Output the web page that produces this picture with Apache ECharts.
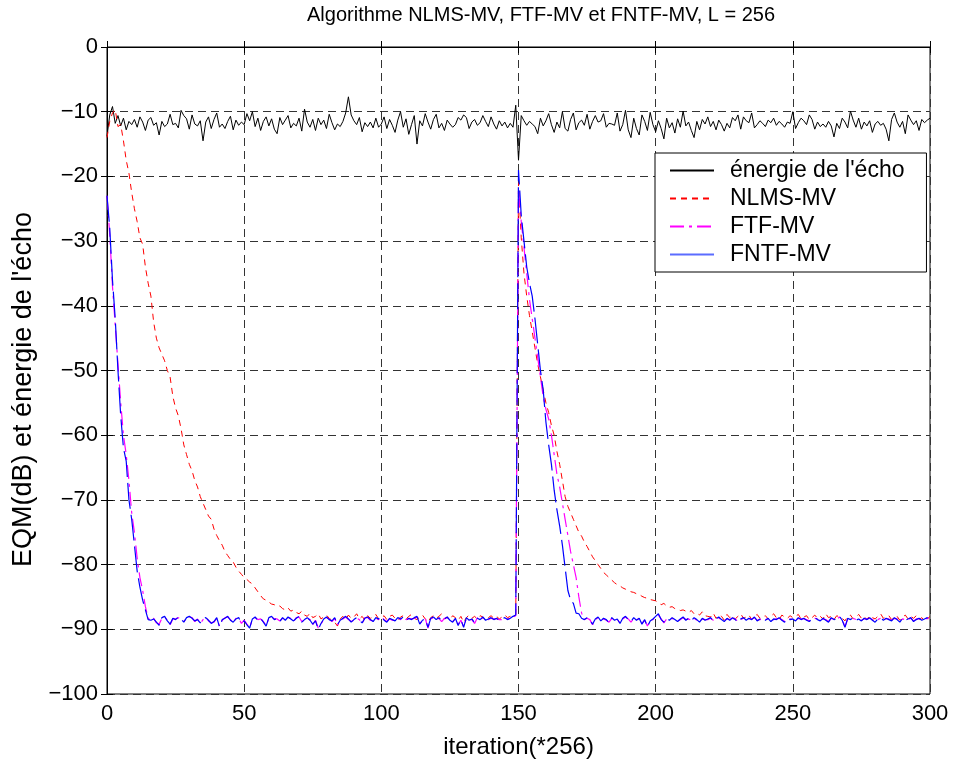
<!DOCTYPE html>
<html><head><meta charset="utf-8">
<script src="https://cdn.jsdelivr.net/npm/echarts@6/dist/echarts.min.js"></script>
<style>html,body{margin:0;padding:0;background:#fff}#c{width:955px;height:762px}</style>
</head><body><div id="c"></div>
<script>
// ---- data (iteration index = position in array, 0..300) ----
const titleText = "Algorithme NLMS-MV, FTF-MV et FNTF-MV, L = 256";
const xName = "iteration(*256)";
const yName = "EQM(dB) et énergie de l'écho";
const seriesNames = ["énergie de l'écho", "NLMS-MV", "FTF-MV", "FNTF-MV"];

const echoEnergy = [
 -13.8,-10.5,-9.2,-11.8,-10.6,-12.2,-11.0,-12.8,-11.5,-12.0,
 -11.2,-12.4,-10.8,-11.6,-12.9,-11.3,-10.9,-12.1,-11.7,-13.6,
 -11.5,-12.3,-11.9,-10.4,-12.0,-11.8,-12.5,-9.8,-10.6,-11.1,
 -12.7,-10.5,-11.9,-12.2,-11.4,-14.5,-11.6,-10.8,-12.6,-11.2,
 -10.2,-12.4,-11.9,-12.6,-11.5,-10.7,-12.8,-11.3,-12.1,-11.6,
 -12.0,-10.3,-11.4,-10.0,-12.3,-11.0,-12.9,-11.5,-10.8,-12.2,
 -11.1,-12.7,-13.4,-10.9,-12.0,-11.3,-10.6,-12.5,-11.8,-12.2,
 -11.0,-13.0,-9.6,-11.6,-12.4,-11.2,-12.9,-11.0,-12.0,-11.3,
 -12.6,-10.4,-11.7,-12.8,-11.9,-12.3,-11.5,-10.2,-7.7,-10.5,
 -11.4,-12.0,-10.9,-13.1,-11.7,-12.3,-11.6,-12.5,-11.0,-12.4,
 -11.9,-10.8,-12.6,-11.2,-12.1,-13.2,-11.3,-10.0,-12.4,-11.1,
 -13.5,-12.0,-10.6,-15.0,-11.4,-12.2,-10.3,-11.6,-12.7,-11.2,
 -10.4,-12.5,-11.8,-12.9,-11.3,-11.9,-12.4,-12.0,-10.9,-11.3,
 -10.5,-10.9,-12.6,-11.6,-11.2,-12.1,-11.7,-10.6,-11.5,-12.3,
 -10.8,-11.9,-12.7,-11.4,-12.2,-11.6,-12.5,-11.8,-12.4,-9.0,
 -17.5,-10.6,-11.4,-12.1,-11.5,-11.9,-12.3,-13.4,-11.0,-12.2,
 -11.4,-10.3,-12.0,-13.2,-11.6,-12.5,-10.0,-12.6,-13.0,-11.2,
 -10.2,-12.8,-11.7,-11.3,-12.1,-10.4,-12.7,-11.5,-10.6,-11.6,
 -11.4,-10.3,-12.4,-11.8,-11.9,-12.1,-10.2,-13.0,-12.0,-9.8,
 -12.8,-14.0,-11.0,-12.6,-13.6,-10.5,-11.5,-12.9,-10.1,-12.0,
 -13.1,-11.4,-12.6,-14.2,-11.0,-12.5,-11.7,-13.3,-11.1,-12.4,
 -9.9,-12.2,-11.6,-12.9,-14.0,-11.5,-12.8,-11.2,-11.9,-10.8,
 -12.3,-11.5,-12.8,-11.3,-12.0,-13.0,-11.8,-12.5,-10.9,-11.4,
 -10.5,-12.7,-10.8,-11.4,-11.7,-10.2,-12.5,-12.0,-11.4,-11.8,
 -12.3,-11.3,-11.7,-11.0,-12.1,-11.5,-11.9,-12.4,-11.6,-11.8,
 -10.0,-12.6,-11.7,-11.0,-11.4,-12.0,-10.5,-11.2,-12.7,-11.6,
 -12.3,-11.9,-12.4,-11.5,-12.2,-13.9,-11.8,-12.6,-11.0,-11.6,
 -12.5,-9.9,-11.3,-12.4,-11.0,-12.7,-11.6,-12.2,-11.4,-13.2,
 -11.9,-11.5,-12.1,-11.8,-12.7,-14.5,-11.2,-10.2,-11.6,-12.4,
 -11.5,-13.4,-10.5,-11.3,-12.0,-11.4,-12.9,-11.2,-11.7,-11.3,
 -11.0
];

// NLMS-MV: iterations 0..85, 86..149, 150..219, 220..300
const nlmsConv1 = [
 -14,-11.5,-10.2,-9.7,-12.3,-12,-14.5,-17.5,-19.5,-22.5,
 -25,-27,-29.5,-30.5,-34,-36.5,-38.5,-42.5,-45,-46.5,
 -47.5,-48.5,-50,-51,-54,-55.8,-57,-59,-61.5,-63,
 -64.5,-65.5,-67,-68,-69.5,-70.5,-71.5,-72.5,-73,-74.5,
 -75.5,-76.3,-77,-78,-78.6,-79.2,-79.6,-80.4,-81,-81.5,
 -82,-82.3,-82.7,-83,-83.6,-84.2,-84.8,-85.3,-85.5,-85.8,
 -86.1,-86.2,-86.5,-86.4,-86.8,-87,-86.7,-87.2,-87,-87.4,
 -87.6,-87.2,-87.8,-88,-87.5,-88.2,-88,-87.6,-88.4,-88.1,
 -87.8,-88.3,-88.6,-88.9,-89.5,-88.4
];
const nlmsFloor1 = [
 -88.0,-88.5,-87.8,-88.3,
 -88.1,-87.6,-88.4,-88.0,-88.6,-87.9,-88.3,-88.1,-87.7,-88.4,
 -88.2,-87.9,-88.5,-88.0,-87.8,-88.3,-88.6,-88.1,-87.9,-88.4,
 -88.0,-87.7,-88.3,-88.5,-88.1,-87.8,-88.4,-88.9,-88.2,-87.9,
 -88.3,-88.0,-87.6,-88.4,-88.1,-88.5,-87.9,-88.2,-88.6,-88.0,
 -88.9,-88.2,-87.8,-88.3,-88.0,-88.4,-87.9,-88.1,-88.5,-88.2,
 -87.9,-88.3,-88.0,-88.4,-88.1,-87.8,-88.2,-88.0,-87.9,-87.7
];
const nlmsConv2 = [
 -21,-29.5,-35,-38.5,-41.5,-44,-46.5,-49,-51,-53,
 -55,-56.5,-58.5,-60,-62.5,-64.5,-67,-69.5,-71,-72,
 -73,-74,-75,-75.6,-76.5,-77.2,-78,-78.8,-79.4,-80,
 -80.6,-81.2,-81.6,-82,-82.4,-82.8,-83.1,-83.3,-83.6,-83.8,
 -84,-84.2,-84.3,-84.5,-84.6,-84.9,-85.1,-85.2,-85.4,-85.5,
 -85.6,-85.9,-86.2,-86,-86.4,-86.6,-86.5,-86.8,-86.9,-87.1,
 -87,-87.2,-87.4,-87.1,-87.6,-87.5,-87.8,-87.3,-87.9,-88
];
const nlmsFloor2 = [
 -88.1,-87.5,-88.3,-87.8,-88.0,-88.6,-87.7,-88.2,-87.9,-88.4,
 -88.0,-87.6,-88.3,-88.1,-87.8,-88.5,-88.0,-87.7,-88.3,-88.1,
 -87.9,-88.4,-88.0,-87.6,-88.2,-88.5,-87.8,-88.1,-88.3,-87.9,
 -88.2,-88.0,-87.7,-88.4,-88.1,-87.9,-88.5,-88.2,-87.8,-88.3,
 -88.0,-88.4,-87.6,-88.2,-88.0,-88.5,-87.9,-88.1,-88.3,-88.7,
 -88.0,-87.8,-88.4,-88.1,-87.7,-88.3,-88.0,-88.5,-87.9,-88.2,
 -88.4,-88.0,-87.6,-88.3,-88.1,-87.9,-88.5,-88.2,-88.0,-88.6,
 -88.1,-87.8,-88.4,-88.0,-88.3,-87.9,-88.5,-88.2,-88.7,-88.4,
 -88.0
];

// FTF-MV: iterations 0..15, 16..149, 150..174, 175..300
const ftfConv1 = [-23,-29,-37,-43,-49,-55,-60,-63,-67,-72,-75,-79,-82,-84,-86.5,-88.3];
const ftfFloor1 = [
 -88.7,-88.3,-89.0,-89.2,
 -88.3,-88.1,-88.6,-89.3,-88.4,-88.4,-88.2,-88.5,-88.8,-88.3,
 -88.1,-88.2,-88.8,-88.4,-89.1,-88.5,-88.1,-88.7,-89.0,-88.9,
 -88.3,-89.5,-88.6,-88.2,-88.1,-88.5,-89.0,-88.3,-88.3,-89.1,
 -88.6,-89.2,-89.7,-88.5,-88.2,-88.5,-88.4,-88.8,-89.4,-88.3,
 -88.1,-88.4,-88.4,-88.7,-88.3,-88.5,-88.2,-88.3,-88.8,-88.2,
 -88.1,-88.8,-88.6,-88.3,-88.5,-89.3,-88.6,-89.8,-89.2,-88.5,
 -88.2,-88.4,-88.8,-88.3,-89.4,-88.5,-88.4,-88.1,-88.5,-88.8,
 -88.6,-88.3,-88.5,-89.1,-88.2,-88.2,-88.6,-88.7,-88.3,-88.5,
 -88.1,-88.5,-88.8,-88.4,-88.6,-88.6,-88.3,-88.5,-88.2,-88.5,
 -88.4,-88.4,-88.3,-88.1,-89.1,-88.7,-88.3,-89.8,-88.4,-88.2,
 -88.4,-88.3,-88.8,-88.3,-88.2,-88.5,-88.8,-88.4,-89.3,-88.6,
 -89.6,-88.3,-88.5,-88.5,-89.1,-88.2,-88.6,-88.2,-88.5,-88.5,
 -88.3,-88.4,-88.4,-88.5,-88.5,-88.3,-88.4,-88.4,-88.1,-87.9
];
const ftfConv2 = [
 -22,-27,-31,-35,-39,-42,-45,-48,-51,-54,
 -56,-57.5,-60,-63,-66,-68,-70.5,-73,-75.5,-78,
 -80,-82,-85,-87.5,-88.5
];
const ftfFloor2 = [
 -88.3,-88.5,-89.3,-88.5,-88.2,
 -88.6,-88.4,-88.6,-88.9,-88.3,-88.5,-88.5,-89.0,-88.4,-88.1,
 -88.4,-88.9,-88.3,-88.5,-88.4,-89.1,-88.6,-89.5,-88.6,-88.5,
 -88.1,-87.8,-88.4,-89.0,-88.4,-88.5,-88.3,-88.6,-88.7,-88.5,
 -88.2,-88.5,-88.4,-88.6,-88.3,-88.6,-88.8,-88.4,-88.5,-88.5,
 -88.3,-88.6,-88.5,-88.2,-88.6,-88.7,-88.4,-88.5,-88.3,-88.4,
 -88.8,-88.5,-88.3,-88.5,-88.4,-88.4,-88.2,-88.6,-88.5,-88.3,
 -88.5,-88.4,-88.7,-88.5,-88.4,-88.3,-88.5,-88.8,-88.4,-88.4,
 -88.5,-88.6,-88.3,-88.4,-88.4,-88.5,-88.7,-88.5,-88.3,-88.4,
 -88.6,-88.4,-88.5,-88.8,-88.3,-88.4,-88.5,-88.1,-88.5,-89.6,
 -88.4,-88.4,-88.3,-88.5,-88.5,-88.6,-88.4,-88.4,-88.3,-88.5,
 -88.8,-88.5,-88.3,-88.5,-88.4,-88.4,-88.6,-88.3,-88.4,-88.8,
 -88.4,-88.5,-88.5,-88.3,-88.7,-88.4,-88.4,-88.5,-88.5,-88.3,
 -88.4
];

// FNTF-MV: iterations 0..15, 16..149, 150..174, 175..300
const fntfConv1 = [-23,-28,-36,-42,-50,-57,-62,-64,-70,-73,-77,-81,-83.5,-85.5,-87,-88.5];
const fntfFloor1 = [
 -88.6,-88.4,-88.9,-89.4,
 -88.2,-88.0,-88.7,-89.2,-88.3,-88.5,-88.1,-88.4,-88.9,-88.2,
 -88.0,-88.3,-88.7,-88.5,-89.0,-88.4,-88.2,-88.6,-89.1,-88.8,
 -88.2,-89.6,-88.5,-88.3,-88.0,-88.6,-88.9,-88.4,-88.2,-89.0,
 -88.7,-89.3,-89.8,-88.4,-88.1,-88.6,-88.3,-88.9,-89.5,-88.2,
 -88.0,-88.5,-88.3,-88.8,-88.2,-88.6,-88.1,-88.4,-88.7,-88.3,
 -88.0,-88.9,-88.5,-88.2,-88.6,-89.2,-88.7,-90.0,-89.1,-88.4,
 -88.1,-88.5,-88.7,-88.2,-89.3,-88.6,-88.3,-88.0,-88.4,-88.9,
 -88.5,-88.2,-88.6,-89.0,-88.3,-88.1,-88.5,-88.8,-88.2,-88.4,
 -88.0,-88.6,-88.9,-88.3,-88.5,-88.7,-88.2,-88.4,-88.1,-88.6,
 -88.3,-88.5,-88.2,-88.0,-89.2,-88.6,-88.4,-89.7,-88.3,-88.1,
 -88.5,-88.2,-88.7,-88.4,-88.1,-88.6,-88.9,-88.3,-89.4,-88.5,
 -89.7,-88.2,-88.6,-88.4,-89.0,-88.3,-88.5,-88.1,-88.6,-88.4,
 -88.2,-88.5,-88.3,-88.6,-88.4,-88.2,-88.5,-88.3,-88.0,-87.8
];
const fntfConv2 = [
 -19,-26,-30,-34,-36.5,-38.5,-42,-46,-50,-53,
 -58,-61.5,-64.5,-68.5,-71.5,-74,-77,-80.5,-84,-85.5,
 -86,-87.5,-87.6,-88.3,-88.5
];
const fntfFloor2 = [
 -88.2,-88.6,-89.2,-88.4,-88.1,
 -88.7,-88.3,-88.5,-89.0,-88.2,-88.6,-88.4,-89.1,-88.3,-88.0,
 -88.5,-88.8,-88.2,-88.6,-88.3,-89.2,-88.5,-89.6,-88.7,-88.4,
 -88.0,-87.6,-88.5,-88.9,-88.3,-88.6,-88.2,-88.5,-88.8,-88.4,
 -88.1,-88.6,-88.3,-88.7,-88.2,-88.5,-88.9,-88.3,-88.6,-88.4,
 -88.2,-88.7,-88.4,-88.1,-88.5,-88.8,-88.3,-88.6,-88.2,-88.5,
 -88.9,-88.4,-88.2,-88.6,-88.3,-88.5,-88.1,-88.7,-88.4,-88.2,
 -88.6,-88.3,-88.8,-88.4,-88.5,-88.2,-88.6,-88.9,-88.3,-88.5,
 -88.4,-88.7,-88.2,-88.5,-88.3,-88.6,-88.8,-88.4,-88.2,-88.5,
 -88.7,-88.3,-88.6,-88.9,-88.2,-88.5,-88.4,-88.0,-88.6,-89.7,
 -88.3,-88.5,-88.2,-88.6,-88.4,-88.7,-88.3,-88.5,-88.2,-88.6,
 -88.9,-88.4,-88.2,-88.6,-88.3,-88.5,-88.7,-88.2,-88.5,-88.9,
 -88.3,-88.6,-88.4,-88.2,-88.8,-88.5,-88.3,-88.6,-88.4,-88.2,
 -88.5
];

// ---- build ----
const nlms = nlmsConv1.concat(nlmsFloor1, nlmsConv2, nlmsFloor2);
const ftf = ftfConv1.concat(ftfFloor1, ftfConv2, ftfFloor2);
const fntf = fntfConv1.concat(fntfFloor1, fntfConv2, fntfFloor2);
const toPairs = arr => arr.map((v, i) => [i, v]);

const FONT = 'Liberation Sans';
const tickLabel = {fontFamily: FONT, fontSize: 22, color: '#000', margin: 9,
  formatter: v => String(v).replace('-', '\u2212')};
const gridLine = {show: true, lineStyle: {color: '#333', type: [8, 5], width: 1}};
const chart = echarts.init(document.getElementById('c'), null, {renderer: 'canvas'});
chart.setOption({
  animation: false,
  backgroundColor: '#fff',
  title: {
    text: titleText, left: 302, top: 0,
    textStyle: {fontFamily: FONT, fontSize: 20, fontWeight: 'normal', color: '#000'}
  },
  grid: {left: 107, right: 25, top: 47, bottom: 68, show: true, borderColor: '#000', borderWidth: 1,
    backgroundColor: '#fff', containLabel: false, outerBoundsMode: 'none'},
  legend: {
    orient: 'vertical', left: 655, top: 153,
    itemWidth: 44, itemHeight: 12, itemGap: 5,
    padding: [6, 22, 6, 14],
    backgroundColor: '#fff', borderColor: '#000', borderWidth: 1,
    itemStyle: {opacity: 0},
    textStyle: {fontFamily: FONT, fontSize: 23, color: '#000', padding: [0, 0, 0, 11]},
    data: [
      {name: seriesNames[0]},
      {name: seriesNames[1]},
      {name: seriesNames[2]},
      {name: seriesNames[3], lineStyle: {type: 'solid', color: '#5b6cff'}}
    ]
  },
  xAxis: [{
    type: 'value', min: 0, max: 300, interval: 50,
    name: xName, nameLocation: 'middle', nameGap: 41,
    nameTextStyle: {fontFamily: FONT, fontSize: 24, color: '#000'},
    axisLine: {show: true, lineStyle: {color: '#000', width: 1}},
    axisTick: {show: true, inside: true, length: 6, lineStyle: {color: '#000'}},
    axisLabel: tickLabel,
    splitLine: gridLine
  }, {
    type: 'value', min: 0, max: 300, interval: 50, position: 'top',
    axisLine: {show: true, lineStyle: {color: '#000', width: 1}},
    axisTick: {show: true, inside: true, length: 6, lineStyle: {color: '#000'}},
    axisLabel: {show: false}, splitLine: {show: false}
  }],
  yAxis: [{
    type: 'value', min: -100, max: 0, interval: 10,
    name: yName, nameLocation: 'middle', nameGap: 68, nameRotate: 90,
    nameTextStyle: {fontFamily: FONT, fontSize: 27, color: '#000', padding: [0, 38, 0, 0]},
    axisLine: {show: true, lineStyle: {color: '#000', width: 1}},
    axisTick: {show: true, inside: true, length: 6, lineStyle: {color: '#000'}},
    axisLabel: tickLabel,
    splitLine: gridLine
  }, {
    type: 'value', min: -100, max: 0, interval: 10, position: 'right',
    axisLine: {show: true, lineStyle: {color: '#000', width: 1}},
    axisTick: {show: true, inside: true, length: 6, lineStyle: {color: '#000'}},
    axisLabel: {show: false}, splitLine: {show: false}
  }],
  series: [
    {name: seriesNames[0], type: 'line', data: toPairs(echoEnergy), symbol: 'none',
     lineStyle: {color: '#000', width: 1}, itemStyle: {color: '#000'}},
    {name: seriesNames[1], type: 'line', data: toPairs(nlms), symbol: 'none',
     lineStyle: {color: '#ff0000', width: 1, type: [6, 5]}, itemStyle: {color: '#ff0000'}},
    {name: seriesNames[2], type: 'line', data: toPairs(ftf), symbol: 'none',
     lineStyle: {color: '#ff00ff', width: 1.2, type: [14, 5, 3, 5]}, itemStyle: {color: '#ff00ff'}},
    {name: seriesNames[3], type: 'line', data: toPairs(fntf), symbol: 'none',
     lineStyle: {color: '#0000ff', width: 1.2, type: [26, 6]}, itemStyle: {color: '#0000ff'}}
  ]
});
</script>
</body></html>
